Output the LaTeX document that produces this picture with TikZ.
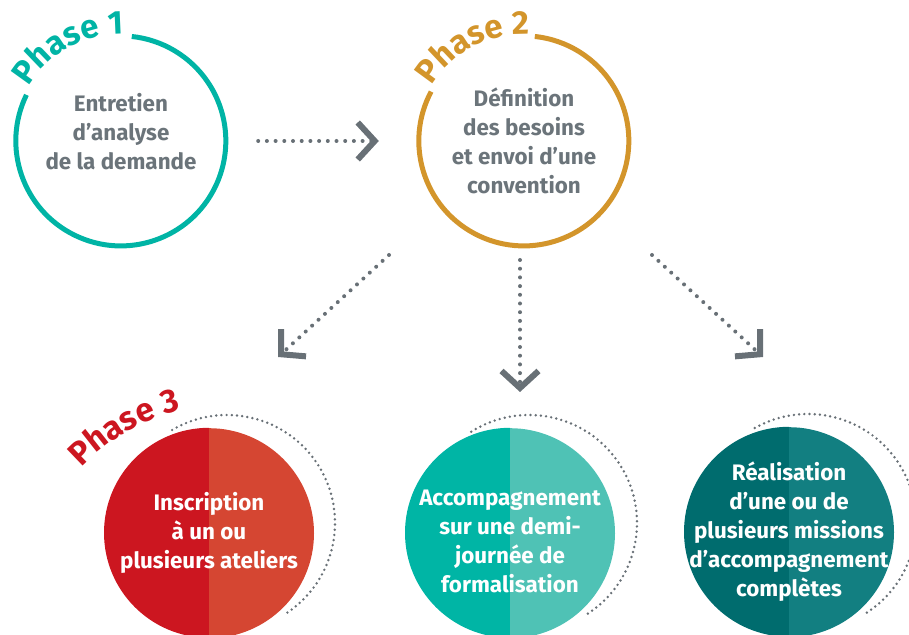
\documentclass[tikz,border=0pt]{standalone}
\usepackage{fontspec}
\setmainfont{Fira Sans}
\usepackage{tikz}
\usetikzlibrary{arrows.meta}
\usetikzlibrary{decorations.text}

\definecolor{ringteal}{RGB}{0,180,165}
\definecolor{ringgold}{RGB}{211,149,43}
\definecolor{txtgray}{RGB}{107,116,122}
\definecolor{dotgray}{RGB}{104,112,118}
\definecolor{redA}{RGB}{204,22,32}
\definecolor{redB}{RGB}{213,70,50}
\definecolor{tealA}{RGB}{0,181,165}
\definecolor{tealB}{RGB}{79,194,181}
\definecolor{petrolA}{RGB}{0,108,110}
\definecolor{petrolB}{RGB}{18,127,129}

\newcommand{\phasefont}{\fontsize{33}{33}\selectfont\bfseries}
\newcommand{\stepfont}{\fontsize{22.4}{29}\selectfont\bfseries}

\tikzset{
	ring/.style={line width=5pt},
	disc/.style={circle, minimum size=210pt, inner sep=0pt},
	steptext/.style={align=center, font=\stepfont, inner sep=0pt},
	dotline/.style={draw=dotgray, line width=4pt, line cap=round,
		dash pattern=on 0pt off 8.7pt,
		-{Straight Barb[sharp, length=17pt, width=37pt, line width=6pt]}},
	halo/.style={draw=dotgray, line width=2.7pt, line cap=round,
		dash pattern=on 0pt off 5.2pt},
}

\begin{document}
\begin{tikzpicture}[x=1pt, y=1pt]
		\useasboundingbox (0,0) rectangle (909,634);
		% phase 1 and 2 : open rings
		\node[disc] (ph1) at (121,493) {};
		\node[disc] (ph2) at (524,493) {};
		\draw[ring, draw=ringteal] (ph1.154) arc (154:444:105);
		\draw[ring, draw=ringgold] (ph2.152) arc (152:444:105);
		\path[decorate, decoration={text along path, text align=center,
			text color=ringteal, text={|\phasefont|Phase 1}}]
			([shift={(156:107)}]ph1.center) arc (156:82:107);
		\path[decorate, decoration={text along path, text align=center,
			text color=ringgold, text={|\phasefont|Phase 2}}]
			([shift={(154:107)}]ph2.center) arc (154:82:107);
		\node[steptext, text=txtgray] (t1) at ([yshift=9]ph1.center)
			{Entretien\\d’analyse\\de la demande};
		\node[steptext, text=txtgray] (t2) at (ph2.center)
			{Définition\\des besoins\\et envoi d’une\\convention};

		% phase 3 : three discs
		\node[disc] (ph3a) at (209,101) {};
		\node[disc] (ph3b) at (510,101) {};
		\node[disc] (ph3c) at (789,102) {};
		\fill[redA] (ph3a.north) arc (90:270:105) -- cycle;
		\fill[redB] (ph3a.south) arc (-90:90:105) -- cycle;
		\fill[tealA] (ph3b.north) arc (90:270:105) -- cycle;
		\fill[tealB] (ph3b.south) arc (-90:90:105) -- cycle;
		\fill[petrolA] (ph3c.north) arc (90:270:105) -- cycle;
		\fill[petrolB] (ph3c.south) arc (-90:90:105) -- cycle;
		\draw[halo] ([shift={(-56:108)}]ph3a.center) ++(18,10) arc (-56:121:108);
		\draw[halo] ([shift={(-57:108)}]ph3b.center) ++(19,10) arc (-57:123:108);
		\draw[halo] ([shift={(-57:108)}]ph3c.center) ++(19,10) arc (-57:121:108);
		\path[decorate, decoration={text along path, text align=center,
			text color=redA, text={|\phasefont|Phase 3}}]
			([shift={(142:200)}]227,29) arc (142:98:200);
		\node[steptext, text=white] (t3a) at (ph3a.center)
			{Inscription\\à un ou\\plusieurs ateliers};
		\node[steptext, text=white] (t3b) at ([yshift=-8]ph3b.center)
			{Accompagnement\\sur une demi-\\journée de\\formalisation};
		\node[steptext, text=white] (t3c) at (ph3c.center)
			{Réalisation\\d’une ou de\\plusieurs missions\\d’accompagnement\\complètes};

		% arrows
		\coordinate (s1) at (389,379);
		\coordinate (e1) at (278,277);
		\coordinate (s2) at (520,374);
		\coordinate (e2) at (520,242);
		\coordinate (s3) at (652,379);
		\coordinate (e3) at (763,277);
		\draw[dotline, shorten <=32pt, shorten >=40pt] (ph1) -- (ph2);
		\draw[dotline] (s1) -- (e1);
		\draw[dotline] (s2) -- (e2);
		\draw[dotline] (s3) -- (e3);
	\end{tikzpicture}
\end{document}
